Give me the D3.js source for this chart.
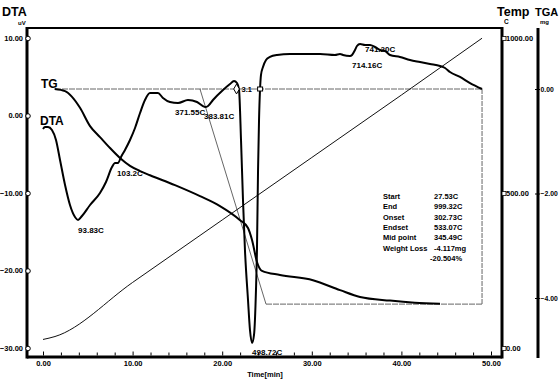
<!DOCTYPE html>
<html>
<head>
<meta charset="utf-8">
<script src="https://cdn.jsdelivr.net/npm/d3@7"></script>
<style>
  html, body { margin: 0; padding: 0; background: #fff; }
  svg { display: block; }
  text { font-family: "Liberation Sans", Arial, sans-serif; font-weight: bold; fill: #000; }
</style>
</head>
<body>
<svg id="chart" width="559" height="379"></svg>
<script>
// ---- data (time in min) ----
// DTA signal, uV
const dtaTime = [0, 0.22, 0.56, 1.0, 1.45, 1.9, 2.46, 3.01, 3.57, 3.91, 4.35, 5.25, 6.36, 7.03, 7.7, 8.04, 8.37, 8.71, 9.15, 9.71, 10.27, 10.83, 11.38, 11.94, 12.83, 13.39, 14.17, 15.07, 16.18, 17.19, 18.08, 18.42, 18.97, 20.09, 20.87, 21.32, 21.65, 21.88, 22.1, 22.32, 22.54, 22.88, 23.1, 23.33, 23.55, 23.77, 23.88, 24.0, 24.11, 24.22, 24.33, 24.55, 24.89, 25.33, 26.12, 27.57, 30.92, 32.59, 33.15, 33.48, 34.26, 34.49, 34.82, 35.04, 35.38, 35.94, 36.5, 37.05, 37.61, 38.17, 38.73, 39.84, 40.96, 42.08, 43.19, 44.31, 44.87, 45.42, 46.54, 47.66, 49.0];
const dtaValue = [-1.74, -1.48, -1.48, -1.87, -3.16, -5.74, -8.97, -11.55, -13.1, -13.48, -12.97, -11.55, -10.0, -8.58, -6.65, -6.13, -6.13, -5.35, -4.45, -3.16, -1.61, 0.32, 2.0, 2.9, 2.9, 2.26, 1.74, 1.61, 2.0, 1.74, 1.1, 1.23, 2.0, 3.29, 4.06, 4.45, 4.19, 3.29, -3.16, -10.9, -17.35, -23.8, -27.68, -29.35, -28.32, -22.52, -17.35, -7.03, -0.58, 3.29, 5.23, 6.26, 7.16, 7.55, 7.81, 7.94, 7.94, 7.81, 7.94, 7.81, 7.68, 7.81, 8.45, 8.97, 9.23, 9.1, 9.1, 8.84, 8.45, 8.32, 7.81, 7.55, 7.16, 6.9, 6.65, 6.39, 6.13, 5.61, 4.97, 4.19, 3.42];

// TG mass change, mg
const tgTime = [1.3, 2.46, 3.24, 4.13, 5.25, 6.36, 7.48, 8.59, 9.71, 10.83, 11.94, 14.73, 17.52, 19.75, 21.99, 22.88, 23.33, 23.88, 24.44, 26.45, 30.13, 33.15, 35.38, 38.73, 41.5, 44.31];
const tgValue = [0, -0.04, -0.15, -0.36, -0.71, -0.92, -1.13, -1.32, -1.47, -1.57, -1.65, -1.84, -2.05, -2.24, -2.51, -2.66, -2.89, -3.31, -3.48, -3.56, -3.66, -3.85, -3.98, -4.05, -4.09, -4.11];

// furnace temperature, C
const tempTime = [0, 1.34, 10, 20, 30, 40, 49];
const tempValue = [27.53, 37, 211.5, 413, 614.5, 816, 999.32];

// TG step analysis
const stepStartTime = 1.34, stepEndTime = 49.0;
const onsetTangent = [[17.52, 0], [24.89, -4.117]];
const weightLoss = -4.117;
const resultLabels = ["Start", "End", "Onset", "Endset", "Mid point", "Weight Loss", ""];
const resultValues = ["27.53C", "999.32C", "302.73C", "533.07C", "345.49C", "-4.117mg", "-20.504%"];

// peak annotations [time, uV, text, dx, dy]
const peakLabels = [
  [3.91, -13.48, "93.83C", 0, 13],
  [8.37, -6.13, "103.2C", -1, 13],
  [15.07, 1.61, "371.55C", -3, 12],
  [18.08, 1.1, "383.81C", -1, 12],
  [23.33, -29.35, "498.72C", 0, 12],
  [34.49, 7.81, "714.16C", 0, 13],
  [35.94, 9.1, "741.20C", 0, 7]
];

// axis ticks
const timeTicks = [0, 10, 20, 30, 40, 50];
const dtaTicks = [10, 0, -10, -20, -30];
const tempTicks = [1000, 500, 0];
const tgaTicks = [0, -2, -4];

// ---- layout ----
const svg = d3.select("#chart");
const frame = { left: 27, right: 502, top: 28, bottom: 357 };
const tgaAxisX = 538;

const x = d3.scaleLinear().domain([0, 50]).range([43, 491]);
const yDta = d3.scaleLinear().domain([-30, 10]).range([348, 38]);
const yTemp = d3.scaleLinear().domain([0, 1000]).range([348, 38]);
const yTga = d3.scaleLinear().domain([-4, 0]).range([298, 89]);
const fmt = d3.format(".2f");

// ---- frame ----
svg.append("line").attr("x1", frame.left).attr("x2", frame.right)
  .attr("y1", frame.top).attr("y2", frame.top)
  .attr("stroke", "#000").attr("stroke-width", 2);
svg.append("line").attr("x1", frame.left).attr("x2", frame.left)
  .attr("y1", frame.top - 1).attr("y2", frame.bottom + 1.5)
  .attr("stroke", "#000").attr("stroke-width", 3);
svg.append("line").attr("x1", frame.right).attr("x2", frame.right)
  .attr("y1", frame.top - 1).attr("y2", frame.bottom + 1.5)
  .attr("stroke", "#000").attr("stroke-width", 3);
svg.append("line").attr("x1", frame.left).attr("x2", frame.right)
  .attr("y1", frame.bottom).attr("y2", frame.bottom)
  .attr("stroke", "#000").attr("stroke-width", 3);
svg.append("line").attr("x1", tgaAxisX).attr("x2", tgaAxisX)
  .attr("y1", frame.top).attr("y2", frame.bottom + 1)
  .attr("stroke", "#000").attr("stroke-width", 3);

// ---- bottom time axis ----
const minorTicks = d3.range(0, 50.01, 2);
const xAxis = d3.axisBottom(x).tickValues(minorTicks).tickSize(-3)
  .tickFormat(d => (timeTicks.includes(d) ? fmt(d) : ""));
const gx = svg.append("g").attr("transform", `translate(0,${frame.bottom - 1.5})`).call(xAxis);
gx.select(".domain").remove();
gx.selectAll(".tick line").attr("stroke", "#000").attr("stroke-width", 1)
  .attr("y2", d => (timeTicks.includes(d) ? -4 : -3));
gx.selectAll(".tick text").attr("y", 5).attr("dy", "0.71em")
  .style("font-size", "7.5px").style("font-family", "Liberation Sans");
svg.append("text").attr("x", 265).attr("y", 377).attr("text-anchor", "middle")
  .style("font-size", "7.5px").text("Time[min]");

// ---- left DTA axis ----
const yAxisL = d3.axisLeft(yDta).tickValues(dtaTicks).tickSize(0).tickPadding(4).tickFormat(fmt);
const gl = svg.append("g").attr("transform", `translate(${frame.left},0)`).call(yAxisL);
gl.select(".domain").remove();
gl.selectAll(".tick text").style("font-size", "7.5px").style("font-family", "Liberation Sans");
gl.selectAll(".tick").append("circle").attr("r", 2.3).attr("cx", 1)
  .attr("fill", "#fff").attr("stroke", "#000").attr("stroke-width", 1);

// ---- right Temp axis ----
const yAxisT = d3.axisRight(yTemp).tickValues(tempTicks).tickSize(0).tickPadding(4).tickFormat(fmt);
const gt = svg.append("g").attr("transform", `translate(${frame.right},0)`).call(yAxisT);
gt.select(".domain").remove();
gt.selectAll(".tick text").style("font-size", "7.5px").style("font-family", "Liberation Sans");
gt.selectAll(".tick").append("rect").attr("x", 0).attr("y", -2).attr("width", 4).attr("height", 4)
  .attr("fill", "#fff").attr("stroke", "#000").attr("stroke-width", 0.8);

// ---- TGA axis ----
const yAxisG = d3.axisRight(yTga).tickValues(tgaTicks).tickSize(2).tickPadding(0).tickFormat(fmt);
const gg = svg.append("g").attr("transform", `translate(${tgaAxisX},0)`).call(yAxisG);
gg.select(".domain").remove();
gg.selectAll(".tick line").attr("stroke", "#000").attr("x1", -3).attr("x2", 2);
gg.selectAll(".tick text").style("font-size", "6.8px").style("font-family", "Liberation Sans")
  .attr("x", 2.5);

// ---- axis titles ----
svg.append("text").attr("x", 2).attr("y", 16).style("font-size", "12.5px").text("DTA");
svg.append("text").attr("x", 18).attr("y", 25).style("font-size", "6px").text("uV");
svg.append("text").attr("x", 497).attr("y", 16).style("font-size", "12.5px").text("Temp");
svg.append("text").attr("x", 504).attr("y", 24).style("font-size", "6.5px").text("C");
svg.append("text").attr("x", 535).attr("y", 16).style("font-size", "11px").text("TGA");
svg.append("text").attr("x", 540).attr("y", 24).style("font-size", "6px").text("mg");

// ---- TG step analysis lines ----
const thin = svg.append("g").attr("fill", "none").attr("stroke", "#555").attr("stroke-width", 0.9);
thin.append("line").attr("x1", x(stepStartTime)).attr("x2", x(stepEndTime))
  .attr("y1", yTga(0)).attr("y2", yTga(0)).attr("stroke-dasharray", "6,1");
thin.append("line").attr("x1", x(stepEndTime)).attr("x2", x(stepEndTime))
  .attr("y1", yTga(0)).attr("y2", yTga(weightLoss)).attr("stroke-dasharray", "5,1");
thin.append("line").attr("x1", x(onsetTangent[1][0])).attr("x2", x(stepEndTime))
  .attr("y1", yTga(weightLoss)).attr("y2", yTga(weightLoss)).attr("stroke-dasharray", "6,1");
thin.append("line").attr("x1", x(onsetTangent[0][0])).attr("y1", yTga(onsetTangent[0][1]))
  .attr("x2", x(onsetTangent[1][0])).attr("y2", yTga(onsetTangent[1][1]));

// ---- temperature line ----
const tempData = tempTime.map((t, i) => [t, tempValue[i]]);
svg.append("path").datum(tempData)
  .attr("fill", "none").attr("stroke", "#111").attr("stroke-width", 1)
  .attr("d", d3.line().x(d => x(d[0])).y(d => yTemp(d[1])).curve(d3.curveMonotoneX));

// ---- TG curve ----
const tgData = tgTime.map((t, i) => [t, tgValue[i]]);
svg.append("path").datum(tgData)
  .attr("fill", "none").attr("stroke", "#000").attr("stroke-width", 2)
  .attr("d", d3.line().x(d => x(d[0])).y(d => yTga(d[1])).curve(d3.curveMonotoneX));

// ---- DTA curve ----
const dtaData = dtaTime.map((t, i) => [t, dtaValue[i]]);
svg.append("path").datum(dtaData)
  .attr("fill", "none").attr("stroke", "#000").attr("stroke-width", 2)
  .attr("stroke-linejoin", "round")
  .attr("d", d3.line().x(d => x(d[0])).y(d => yDta(d[1])).curve(d3.curveMonotoneX));

// ---- curve names ----
svg.append("text").attr("x", 41).attr("y", 88).style("font-size", "12px").text("TG");
svg.append("text").attr("x", 40).attr("y", 125).style("font-size", "12px").text("DTA");

// ---- peak labels ----
svg.append("g").selectAll("text").data(peakLabels).join("text")
  .attr("x", d => x(d[0]) + d[3])
  .attr("y", d => yDta(d[1]) + d[4])
  .style("font-size", "8px")
  .text(d => d[2]);

// ---- step markers ----
const markY = yTga(0);
svg.append("path").attr("d", d3.symbol(d3.symbolDiamond, 28)())
  .attr("transform", `translate(${x(21.6)},${markY})`)
  .attr("fill", "#fff").attr("stroke", "#000").attr("stroke-width", 1);
svg.append("text").attr("x", x(21.6) + 5).attr("y", markY + 3).style("font-size", "7.5px").text("3.1");
svg.append("rect").attr("x", x(23.95)).attr("y", markY - 2).attr("width", 5).attr("height", 4)
  .attr("fill", "#fff").attr("stroke", "#000").attr("stroke-width", 1);

// ---- results table ----
const res = svg.append("g").style("font-size", "7.5px");
res.selectAll("text.lab").data(resultLabels).join("text").attr("class", "lab")
  .attr("x", 383).attr("y", (d, i) => 199 + i * 10.3).text(d => d);
res.selectAll("text.val").data(resultValues).join("text").attr("class", "val")
  .attr("x", (d, i) => (i === 6 ? 430 : 434)).attr("y", (d, i) => 199 + i * 10.3).text(d => d);
</script>
</body>
</html>
